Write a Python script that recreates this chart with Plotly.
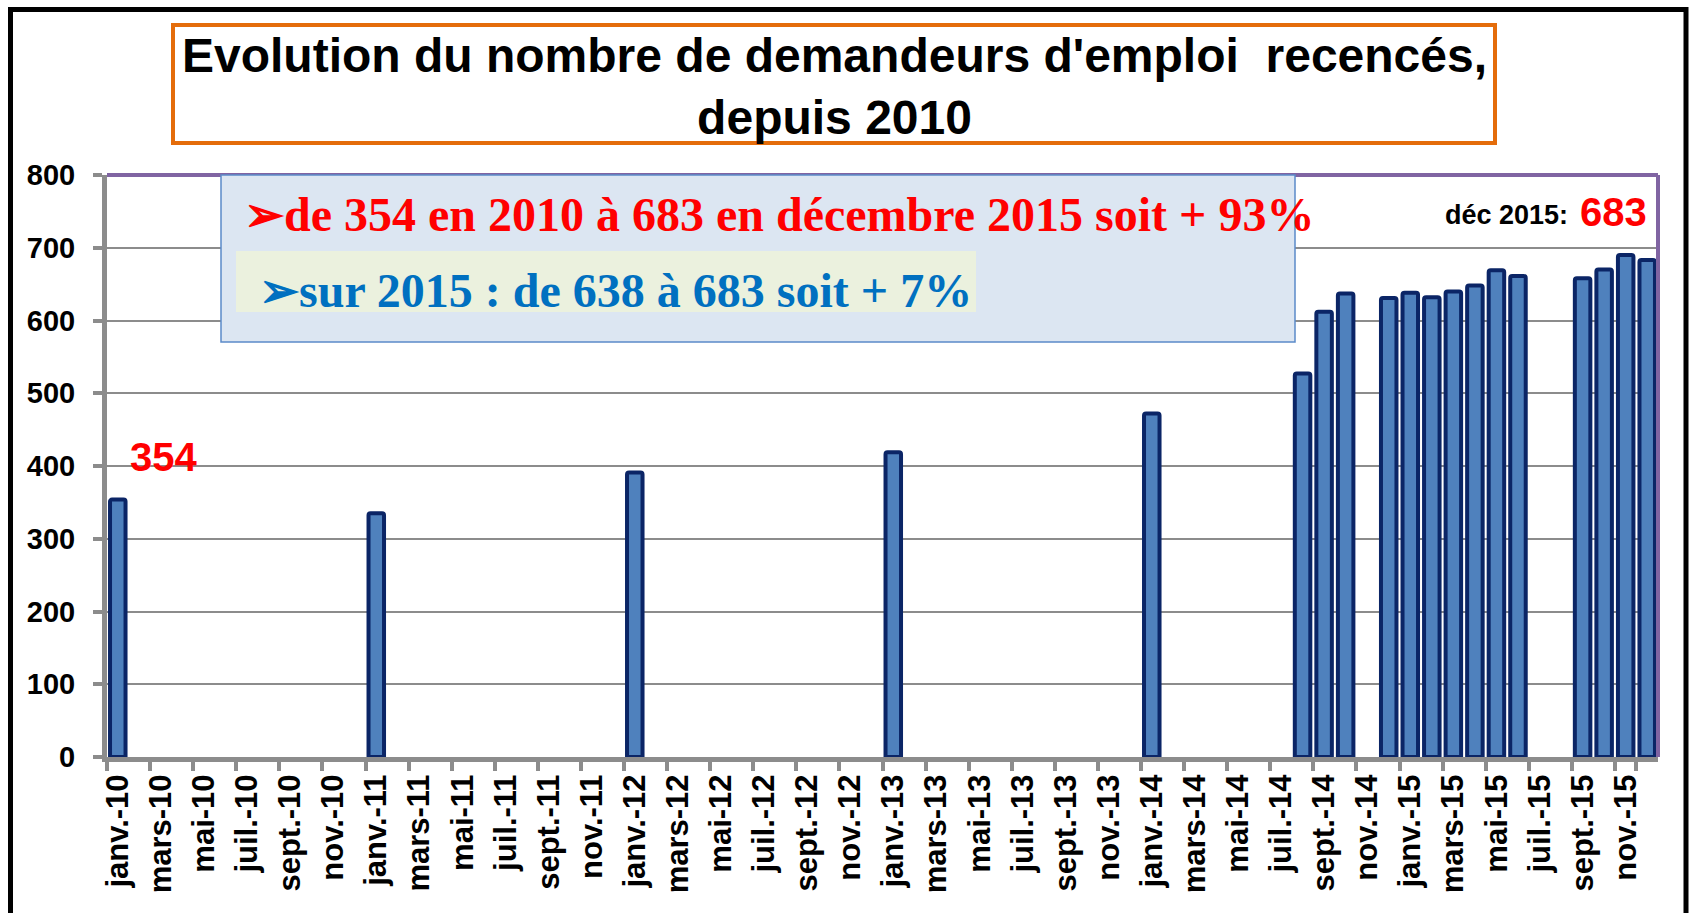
import plotly.graph_objects as go

# ---------------- data ----------------
month_abbr = ["janv.", "févr.", "mars", "avr.", "mai", "juin",
              "juil.", "août", "sept.", "oct.", "nov.", "déc."]
years = ["10", "11", "12", "13", "14", "15"]
categories = [f"{m}-{y}" for y in years for m in month_abbr]
x_tick_labels = categories[::2]

bar_months = ["janv.-10", "janv.-11", "janv.-12", "janv.-13", "janv.-14",
              "août-14", "sept.-14", "oct.-14", "déc.-14",
              "janv.-15", "févr.-15", "mars-15", "avr.-15", "mai-15", "juin-15",
              "sept.-15", "oct.-15", "nov.-15", "déc.-15"]
bar_values = [354, 335, 391, 419, 472,
              527, 612, 637, 631,
              638, 632, 640, 648, 669, 661,
              658, 670, 690, 683]
y_ticks = [0, 100, 200, 300, 400, 500, 600, 700, 800]

title_text = "Evolution du nombre de demandeurs d'emploi  recencés,<br>depuis 2010"
line1_text = "➢de 354 en 2010 à 683 en décembre 2015 soit + 93%"
line2_text = "➢sur 2015 : de 638 à 683 soit + 7%"

# ---------------- geometry (pixels) ----------------
W, H = 1690, 913
PL, PR, PT, PB = 107, 1658, 175, 757


def px2x(px):
    return (px - PL) / (PR - PL)


def py2y(py):
    return (PB - py) / (PB - PT)


SANS = "Liberation Sans, Arial, sans-serif"
SERIF = "Liberation Serif, Times New Roman, serif"

fig = go.Figure()
fig.add_trace(go.Bar(
    x=bar_months, y=bar_values,
    marker=dict(color="#4F81BD", line=dict(color="#0B2566", width=4), cornerradius=2),
    hoverinfo="x+y",
))

shapes = [
    # outer black frame
    dict(type="rect", xref="paper", yref="paper",
         x0=px2x(10.5), x1=px2x(1686), y0=py2y(9.5), y1=py2y(940),
         line=dict(color="black", width=5), fillcolor="rgba(0,0,0,0)", layer="above"),
    # purple top / right plot border
    dict(type="line", xref="paper", yref="paper", x0=0, x1=1, y0=1, y1=1,
         line=dict(color="#8064A2", width=4), layer="above"),
    dict(type="line", xref="paper", yref="paper", x0=1, x1=1, y0=0, y1=1,
         line=dict(color="#8064A2", width=4), layer="above"),
    # title box
    dict(type="rect", xref="paper", yref="paper",
         x0=px2x(173), x1=px2x(1495), y0=py2y(25), y1=py2y(143),
         line=dict(color="#E46C0A", width=4), fillcolor="white", layer="above"),
    # info box
    dict(type="rect", xref="paper", yref="paper",
         x0=px2x(221), x1=px2x(1295), y0=py2y(175), y1=py2y(342),
         line=dict(color="#5B8BC9", width=1.5), fillcolor="#DCE6F2", layer="above"),
    dict(type="rect", xref="paper", yref="paper",
         x0=px2x(236), x1=px2x(976), y0=py2y(251), y1=py2y(312),
         line=dict(width=0), fillcolor="#EBF1DE", layer="above"),
]

annotations = [
    dict(text=title_text, x=px2x(834), y=py2y(86), xref="paper", yref="paper",
         xanchor="center", yanchor="middle", showarrow=False,
         font=dict(family=SANS, size=48, color="black", weight="bold")),
    dict(text=line1_text, x=px2x(242), y=py2y(214), xref="paper", yref="paper",
         xanchor="left", yanchor="middle", showarrow=False,
         font=dict(family=SERIF, size=48, color="#FF0000", weight="bold")),
    dict(text=line2_text, x=px2x(257), y=py2y(290), xref="paper", yref="paper",
         xanchor="left", yanchor="middle", showarrow=False,
         font=dict(family=SERIF, size=48, color="#0070C0", weight="bold")),
    dict(text="354", x=px2x(163), y=py2y(457), xref="paper", yref="paper",
         xanchor="center", yanchor="middle", showarrow=False,
         font=dict(family=SANS, size=40, color="#FF0000", weight="bold")),
    dict(text="déc 2015:", x=px2x(1570), y=py2y(215), xref="paper", yref="paper",
         xanchor="right", yanchor="middle", showarrow=False,
         font=dict(family=SANS, size=27, color="black", weight="bold")),
    dict(text="683", x=px2x(1578), y=py2y(212), xref="paper", yref="paper",
         xanchor="left", yanchor="middle", showarrow=False,
         font=dict(family=SANS, size=40, color="#FF0000", weight="bold")),
]

fig.update_layout(
    width=W, height=H,
    margin=dict(l=PL, r=W - PR, t=PT, b=H - PB, pad=0),
    paper_bgcolor="white", plot_bgcolor="white",
    showlegend=False, bargap=0.28,
    font=dict(family=SANS, color="black"),
    shapes=shapes, annotations=annotations,
    xaxis=dict(
        type="category", categoryorder="array", categoryarray=categories,
        range=[-0.5, len(categories) - 0.5],
        tickmode="array", tickvals=x_tick_labels, ticktext=x_tick_labels,
        tickson="boundaries", tickangle=-90,
        ticks="outside", ticklen=9, tickwidth=4, tickcolor="#8C8C8C",
        showline=True, linecolor="#8C8C8C", linewidth=5,
        showgrid=False, zeroline=False,
        tickfont=dict(family=SANS, size=31, color="black", weight="bold"),
    ),
    yaxis=dict(
        range=[0, 800], tickmode="array", tickvals=y_ticks,
        ticks="outside", ticklen=9, tickwidth=4, tickcolor="#8C8C8C",
        showline=True, linecolor="#8C8C8C", linewidth=5,
        showgrid=True, gridcolor="#8C8C8C", gridwidth=1.5, zeroline=False,
        tickfont=dict(family=SANS, size=29, color="black", weight="bold"),
        ticklabelstandoff=12,
    ),
)

fig.write_html("out.html", config={"displayModeBar": False},
               post_script="document.body.style.margin='0';document.body.style.overflow='hidden';")
